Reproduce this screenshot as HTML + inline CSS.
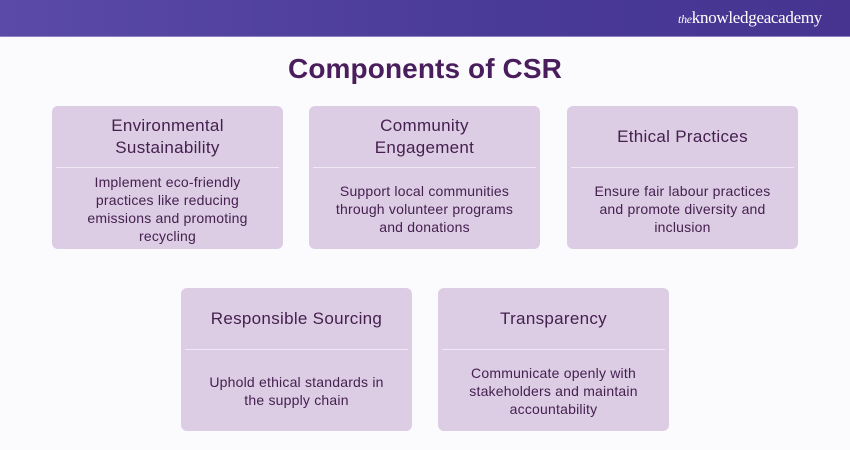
<!DOCTYPE html>
<html><head><style>
body{margin:0;width:850px;height:450px;background:#fbfbfd;font-family:"Liberation Sans",sans-serif;position:relative;overflow:hidden}
.hdr{position:absolute;left:0;top:0;width:850px;height:36px;background:linear-gradient(90deg,#5b4aa8,#4a3a98 60%,#463490);border-bottom:1px solid #8c7fc8}
.logo{position:absolute;right:28px;top:8px;color:#fff;font-family:"Liberation Serif",serif;font-size:17px;letter-spacing:-0.3px}
.logo i{font-size:12px}
h1{position:absolute;top:53px;left:0;width:850px;text-align:center;margin:0;font-size:28px;color:#4a1d5c;font-weight:bold;letter-spacing:0.1px}
.b{position:absolute;width:231px;height:143px;background:#dccde5;border-radius:6px}
.t{position:absolute;top:0;left:0;right:0;height:61px;display:flex;align-items:center;justify-content:center;text-align:center;font-size:17px;color:#45204f;line-height:22px;letter-spacing:0.3px}
.l{position:absolute;top:61px;left:4px;right:4px;height:1px;background:#f0e8f4}
.d{position:absolute;top:62px;left:0;right:0;bottom:0;display:flex;align-items:center;justify-content:center;text-align:center;font-size:14px;color:#45204f;line-height:18px;padding:0 24px;letter-spacing:0.2px}
</style></head><body>
<div class="hdr"><div class="logo"><i>the</i>knowledgeacademy</div></div>
<h1>Components of CSR</h1>
<div class="b" style="left:52px;top:106px"><div class="t">Environmental<br>Sustainability</div><div class="l"></div><div class="d">Implement eco-friendly<br>practices like reducing<br>emissions and promoting<br>recycling</div></div>
<div class="b" style="left:309px;top:106px"><div class="t">Community<br>Engagement</div><div class="l"></div><div class="d">Support local communities<br>through volunteer programs<br>and donations</div></div>
<div class="b" style="left:567px;top:106px"><div class="t">Ethical Practices</div><div class="l"></div><div class="d">Ensure fair labour practices<br>and promote diversity and<br>inclusion</div></div>
<div class="b" style="left:181px;top:288px"><div class="t">Responsible Sourcing</div><div class="l"></div><div class="d">Uphold ethical standards in<br>the supply chain</div></div>
<div class="b" style="left:438px;top:288px"><div class="t">Transparency</div><div class="l"></div><div class="d">Communicate openly with<br>stakeholders and maintain<br>accountability</div></div>
</body></html>
